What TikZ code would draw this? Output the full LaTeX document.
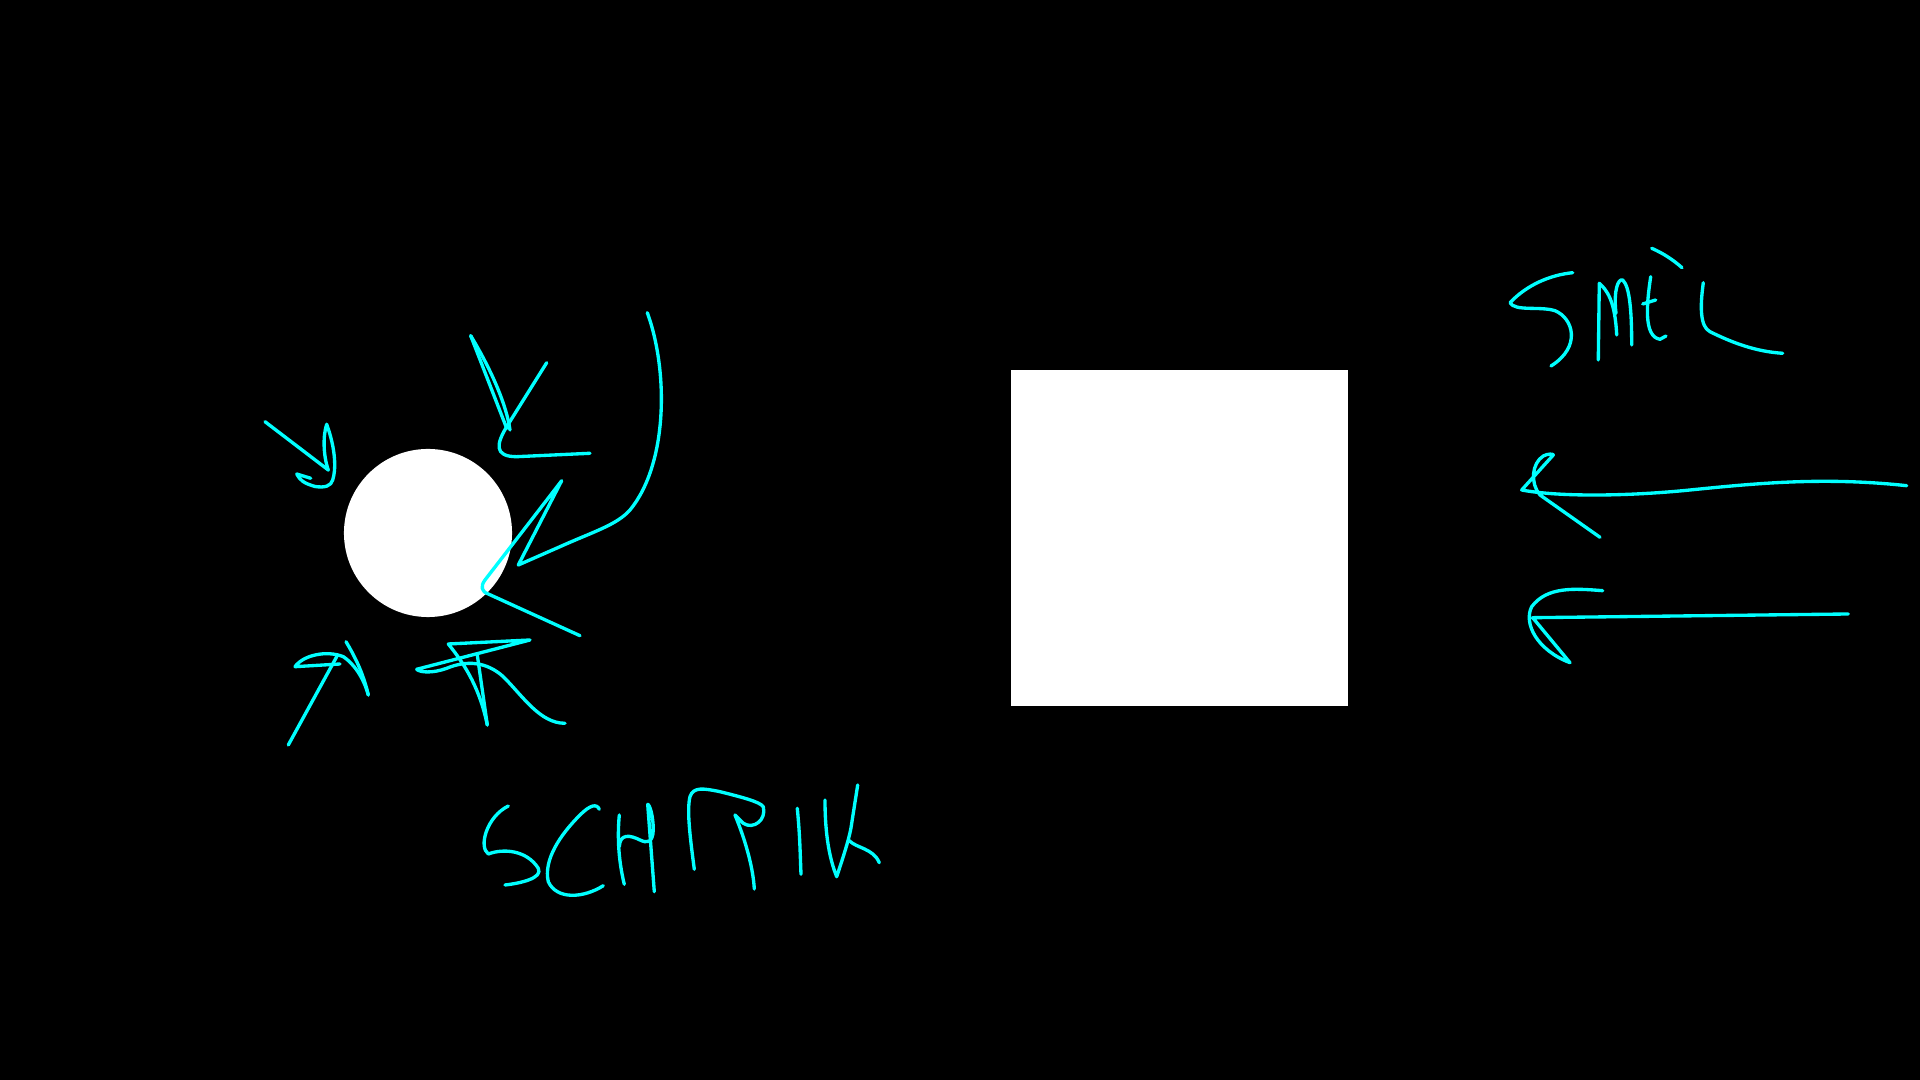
\documentclass[tikz,border=0pt]{standalone}
\begin{document}
\begin{tikzpicture}[x=0.01cm,y=-0.01cm,
  ink/.style={draw={rgb,255:red,0;green,255;blue,255},line width=0.95pt,line cap=round,line join=round},
  blob/.style={fill=white,draw=none,inner sep=0pt}]
\fill[black] (0,0) rectangle (1920,1080);
\useasboundingbox (0,0) rectangle (1920,1080);
\node[blob,circle,minimum size=1.68cm] (sun) at (428,533) {};
\node[blob,rectangle,minimum width=3.37cm,minimum height=3.36cm] (box) at (1179.5,538) {};
% arrow upper-left
\draw[ink] (265,421.7) -- (328.3,470);
\draw[ink] (310.7,478.3) -- (296.7,474) .. controls (300,480) and (303,483) .. (315,486.5) .. controls (325,488) and (331,486) .. (332.7,480) .. controls (336,470) and (336,450) .. (326.7,424.3) .. controls (323,435) and (323,455) .. (328.3,470);
% arrow top
\draw[ink] (546.7,362.7) -- (506.7,426.7) .. controls (496.7,443.3) and (493.3,456.7) .. (516.7,456.7) -- (590,453.3);
\draw[ink] (470.7,335.7) .. controls (493.3,373.3) and (506.7,406.7) .. (510,430);
\draw[ink] (470.7,335.7) -- (506.7,428.3);
% big curve arrow right
\draw[ink] (647.3,312.7) .. controls (668.3,370) and (668.3,463.3) .. (630,510) .. controls (616.7,525) and (593.3,531.7) .. (560,546.7) -- (518.3,565) -- (561.7,480.7) -- (485,580) .. controls (480,586.7) and (481.7,591.7) .. (488.3,594) -- (580,635.7);
% arrow bottom-left
\draw[ink] (288.3,745) -- (336.7,656.7);
\draw[ink] (340,664) -- (295,666.7) .. controls (303.3,655) and (326.7,650) .. (343.3,656.7) .. controls (353.3,663.3) and (363.3,676.7) .. (368.3,695);
\draw[ink] (346,641.7) .. controls (355,656.7) and (363.3,673.3) .. (368.3,695);
% arrow bottom-middle
\draw[ink] (565,723.3) .. controls (540,723.3) and (523.3,696.7) .. (503.3,676.7) .. controls (486.7,661.7) and (466.7,660) .. (446.7,668.3) .. controls (433.3,673.3) and (420,672.7) .. (416.7,669.3) -- (530,640) -- (448.3,644) .. controls (466.7,666.7) and (480,690) .. (487.3,725);
\draw[ink] (477.3,655) -- (487.3,725);
% SCHPIK
\draw[ink] (508.3,806) .. controls (486.7,816.7) and (478.3,846.7) .. (488.3,854) .. controls (503.3,848.3) and (526.7,850) .. (538.3,868.3) .. controls (543.3,878.3) and (520,883.3) .. (505,885);
\draw[ink] (599.3,809.3) .. controls (596.7,803.3) and (590,805) .. (580,815) .. controls (560,835) and (543.3,860) .. (548.3,881.7) .. controls (556.7,900) and (583.3,898.3) .. (603.3,885.7);
\draw[ink] (619.3,815) .. controls (616.7,843.3) and (620,866.7) .. (624.3,884.3);
\draw[ink] (619.3,846.7) .. controls (620,833.3) and (630,835) .. (640,840) .. controls (646.7,843.3) and (652.7,843.3) .. (653.3,830) .. controls (653.3,816.7) and (650,805) .. (647.7,804.3) -- (654.3,891.7);
\draw[ink] (694.3,869.3) .. controls (690,836.7) and (686.7,810) .. (690,796.7) .. controls (693.3,786.7) and (703.3,788.3) .. (720,791.7) .. controls (740,796.7) and (760,801.7) .. (763.3,806.7) .. controls (766.7,820) and (753.3,830) .. (743.3,823.3) -- (735,815) .. controls (746.7,843.3) and (753.3,870) .. (754.3,889);
\draw[ink] (797.3,808.3) .. controls (800,836.7) and (800,850) .. (801,874.3);
\draw[ink] (825,800) .. controls (825,836.7) and (830,860) .. (836.7,876.7) .. controls (843.3,856.7) and (850,836.7) .. (851.7,823.3) -- (857.7,785);
\draw[ink] (849.3,840.7) .. controls (856.7,848.3) and (873.3,848.3) .. (879.3,862.7);
% SMEL
\draw[ink] (1572.7,272.7) .. controls (1550,275) and (1526.7,285) .. (1510,302.7) .. controls (1515,311.7) and (1540,306) .. (1555,310.7) .. controls (1573.3,318.3) and (1581.7,346.7) .. (1551,366);
\draw[ink] (1598.3,360) -- (1599.3,283.3) .. controls (1606.7,290) and (1615,300) .. (1616.7,335);
\draw[ink] (1616,313.3) .. controls (1613.3,290) and (1618.3,278.3) .. (1622.7,280) .. controls (1630,286.7) and (1631.7,313.3) .. (1631.7,345);
\draw[ink] (1650.7,276.7) .. controls (1646.7,303.3) and (1643.3,336.7) .. (1660,339.3) -- (1666,336);
\draw[ink] (1642.7,304) -- (1655.7,300);
\draw[ink] (1651.7,248.3) .. controls (1663.3,253.3) and (1673.3,260) .. (1682,267.7);
\draw[ink] (1703.3,282.7) .. controls (1700,306.7) and (1700,326.7) .. (1710,331.7) .. controls (1733.3,343.3) and (1756.7,351.7) .. (1782.7,353.3);
% right arrows
\draw[ink] (1600,537.3) -- (1540,495) .. controls (1530,483.3) and (1531.7,463.3) .. (1543.3,456) .. controls (1548.3,453.3) and (1553.3,454) .. (1553.3,455) -- (1521.7,490) .. controls (1556.7,496.7) and (1623.3,496.7) .. (1690,490) .. controls (1756.7,483.3) and (1823.3,476.7) .. (1906.7,485.7);
\draw[ink] (1602.7,590.7) .. controls (1573.3,588.3) and (1546.7,586.7) .. (1531.7,606.7) .. controls (1523.3,623.3) and (1536.7,650) .. (1570,662.7) -- (1532.7,617.7) -- (1848.3,614);
\end{tikzpicture}
\end{document}
